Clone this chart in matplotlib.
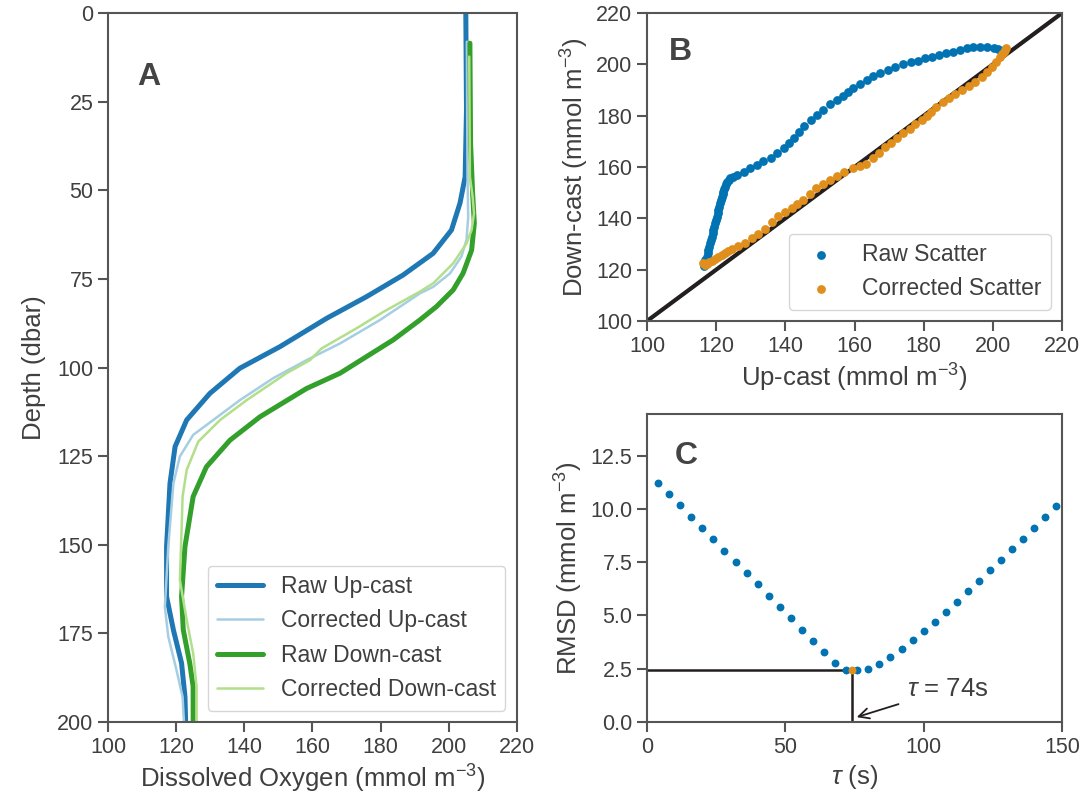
import matplotlib
matplotlib.use("Agg")
import matplotlib.pyplot as plt
import seaborn as sns

# ---- panel A: oxygen profiles (depth in dbar, oxygen in mmol m-3)
raw_up_depth = [0, 27.4, 46.2, 53.6, 61.2, 67.8, 73.9, 80.0, 86.1, 94.1, 100.2,
                107.3, 114.8, 122.3, 132.7, 150.5, 164.6, 174.0, 183.4, 192.9, 200]
raw_up_oxy = [205.0, 205.2, 204.8, 203.3, 200.8, 195.4, 186.6, 175.9, 164.2, 150.5, 138.7,
              129.9, 123.1, 119.7, 118.2, 117.2, 117.2, 119.2, 121.6, 122.6, 122.8]

cor_up_depth = [8.1, 46.2, 57.5, 64.0, 68.7, 73.4, 77.2, 79.1, 86.6, 93.2, 97.9, 103.0,
                109.2, 114.8, 119.0, 125.1, 132.7, 150.5, 167.5, 175.9, 185.3, 192.9, 200]
cor_up_oxy = [205.3, 205.5, 205.7, 205.2, 203.7, 200.4, 195.5, 191.5, 179.8, 168.1, 158.3, 148.5,
              138.7, 130.9, 125.0, 121.1, 119.2, 117.7, 116.7, 117.7, 120.1, 121.9, 122.3]

raw_down_depth = [8.5, 36.8, 50.9, 59.3, 66.9, 73.4, 78.1, 82.8, 86.6, 92.2, 101.6, 105.9,
                  113.9, 120.5, 128.0, 136.4, 150.5, 164.6, 174.0, 183.4, 190.0, 200]
raw_down_oxy = [206.2, 206.4, 207.0, 207.5, 206.7, 204.2, 201.3, 196.4, 191.5, 183.7, 168.1, 158.3,
                144.6, 135.8, 128.9, 125.0, 122.6, 121.6, 122.1, 124.0, 125.0, 125.0]

cor_down_depth = [12.3, 46.2, 51.8, 56.5, 61.2, 65.0, 70.6, 76.2, 78.6, 84.3, 88.9, 94.6, 97.9,
                  101.6, 109.2, 114.8, 120.9, 128.9, 136.4, 145.8, 159.9, 171.2, 180.6, 190.0, 200]
cor_down_oxy = [206.0, 206.2, 207.0, 207.4, 206.7, 205.2, 201.3, 195.5, 191.5, 180.8, 173.0, 162.7, 159.3,
                152.4, 140.7, 132.9, 126.5, 123.1, 121.9, 121.6, 121.1, 123.1, 125.0, 126.0, 126.0]

# ---- panel B: down-cast vs up-cast
raw_up = [116.8, 116.5, 116.9, 117.2, 117.5, 117.7, 118.0, 118.2, 118.5, 118.7, 119.0, 119.2,
          119.5, 119.7, 120.0, 120.2, 120.4, 120.6, 120.9, 121.1, 121.4, 121.6, 121.9, 122.1,
          122.4, 122.6, 122.9, 123.2, 123.6, 124.0, 124.8, 125.9, 127.9, 129.8, 131.7, 133.6,
          135.8, 137.7, 139.6, 141.1, 142.5, 144.0, 145.5, 147.3, 149.2, 151.0, 152.9, 154.9,
          156.8, 158.2, 159.7, 161.6, 163.5, 165.4, 167.4, 169.8, 171.7, 174.1, 176.3, 178.5,
          180.4, 182.3, 184.5, 186.5, 188.6, 190.5, 192.4, 194.4, 196.3, 198.2, 200.2, 201.6, 203.1]
raw_down = [122.5, 121.3, 123.6, 125.0, 126.4, 127.7, 129.0, 130.2, 131.5, 132.8, 134.1, 135.4,
            136.7, 138.0, 139.3, 140.6, 141.9, 143.2, 144.5, 145.8, 147.1, 148.4, 149.4, 150.4,
            151.4, 152.3, 153.3, 154.3, 155.0, 155.6, 156.3, 156.9, 158.2, 159.5, 160.8, 162.3,
            163.6, 165.6, 167.5, 169.2, 171.5, 173.8, 176.0, 178.3, 180.3, 182.2, 184.4, 186.1,
            187.7, 189.3, 190.6, 192.5, 194.1, 195.5, 196.7, 198.0, 199.0, 200.0, 200.8, 201.4,
            202.3, 203.0, 203.7, 204.3, 204.9, 205.6, 206.2, 206.6, 206.9, 206.9, 206.5, 205.8, 205.6]

cor_up = [116.8, 116.3, 117.3, 117.8, 118.7, 119.6, 120.6, 121.6, 122.6, 123.5, 124.5, 126.4, 128.3,
          130.3, 132.2, 134.1, 136.1, 138.0, 139.9, 141.8, 143.3, 145.2, 147.1, 148.9, 150.8,
          152.9, 154.9, 157.0, 159.7, 161.6, 163.3, 165.3, 167.2, 168.8, 170.6, 172.4, 174.1,
          175.9, 177.6, 179.5, 180.9, 182.2, 183.6, 185.5, 187.2, 189.1, 191.0, 193.0, 194.9,
          196.8, 198.2, 199.7, 200.9, 202.1, 202.6, 203.1, 203.5, 203.8]
cor_down = [121.9, 122.6, 122.4, 122.8, 123.2, 124.0, 124.8, 125.6, 126.4, 127.2, 127.9, 129.2, 130.5,
            132.2, 133.9, 135.7, 138.7, 140.9, 142.6, 143.9, 145.6, 147.1, 149.5, 151.7, 153.4,
            154.9, 156.6, 157.9, 159.5, 160.4, 161.2, 163.4, 165.6, 167.7, 169.5, 171.4, 173.1,
            174.8, 176.6, 178.3, 179.8, 181.5, 183.2, 185.4, 186.9, 188.6, 190.2, 191.6, 193.2,
            195.1, 197.1, 199.0, 201.0, 202.9, 203.9, 204.9, 205.6, 206.2]

# ---- panel C: RMSD against lag
tau = [4, 8, 12, 16, 20, 24, 28, 32, 36, 40, 44, 48, 52, 56, 60, 64, 68, 72, 76, 80,
       84, 88, 92, 96, 100, 104, 108, 112, 116, 120, 124, 128, 132, 136, 140, 144, 148]
rmsd = [11.21, 10.68, 10.17, 9.64, 9.10, 8.57, 8.04, 7.51, 7.00, 6.46, 5.93, 5.40, 4.87, 4.34,
        3.82, 3.29, 2.76, 2.46, 2.46, 2.50, 2.72, 3.07, 3.43, 3.84, 4.26, 4.70, 5.16, 5.64,
        6.13, 6.63, 7.12, 7.60, 8.10, 8.60, 9.10, 9.61, 10.12]
best_tau = 74
best_rmsd = 2.45

sns.set_style("ticks")
txt = "#3f3f3f"
plt.rcParams["font.family"] = ["Liberation Sans", "DejaVu Sans"]
plt.rcParams["mathtext.fontset"] = "custom"
plt.rcParams["mathtext.rm"] = "Liberation Sans"
plt.rcParams["mathtext.it"] = "Liberation Sans:italic"
plt.rcParams["text.color"] = txt
plt.rcParams["axes.labelcolor"] = txt
plt.rcParams["xtick.color"] = "#555555"
plt.rcParams["ytick.color"] = "#555555"
plt.rcParams["xtick.labelcolor"] = txt
plt.rcParams["ytick.labelcolor"] = txt
plt.rcParams["axes.edgecolor"] = "#555555"
plt.rcParams["axes.linewidth"] = 1.5
plt.rcParams["xtick.major.width"] = 1.5
plt.rcParams["ytick.major.width"] = 1.5
plt.rcParams["xtick.major.size"] = 7
plt.rcParams["ytick.major.size"] = 7
plt.rcParams["xtick.labelsize"] = 15.5
plt.rcParams["ytick.labelsize"] = 15.5
plt.rcParams["axes.labelsize"] = 18.5
plt.rcParams["legend.fontsize"] = 16.5

fig = plt.figure(figsize=(10.86, 8.1), dpi=100)
axA = fig.add_axes([0.0994, 0.1086, 0.3766, 0.8753])
axB = fig.add_axes([0.5958, 0.6037, 0.3821, 0.3802])
axC = fig.add_axes([0.5958, 0.1086, 0.3821, 0.3802])

# A
axA.plot(raw_up_oxy, raw_up_depth, color="#1f78b4", lw=3.6, label="Raw Up-cast")
axA.plot(cor_up_oxy, cor_up_depth, color="#a6cee3", lw=1.8, label="Corrected Up-cast")
axA.plot(raw_down_oxy, raw_down_depth, color="#33a02c", lw=3.6, label="Raw Down-cast")
axA.plot(cor_down_oxy, cor_down_depth, color="#b2df8a", lw=1.8, label="Corrected Down-cast")
axA.set_xlim(100, 220)
axA.set_ylim(200, 0)
axA.set_xticks(range(100, 221, 20))
axA.set_yticks(range(0, 201, 25))
axA.set_xlabel("Dissolved Oxygen (mmol m$^{-3}$)")
axA.set_ylabel("Depth (dbar)", labelpad=8)
axA.legend(loc="lower right")
axA.text(0.10, 0.91, "A", transform=axA.transAxes, fontsize=23, fontweight="bold",
         ha="center", va="center", color="#444444")

# B
axB.plot([100, 220], [100, 220], color="#231f20", lw=3, zorder=1)
axB.scatter(raw_up, raw_down, s=40, color="#0173b2", linewidths=0, label="Raw Scatter", zorder=2)
axB.scatter(cor_up, cor_down, s=40, color="#e08f1c", linewidths=0, label="Corrected Scatter", zorder=3)
axB.set_xlim(100, 220)
axB.set_ylim(100, 220)
axB.set_xticks(range(100, 221, 20))
axB.set_yticks(range(100, 221, 20))
axB.set_xlabel("Up-cast (mmol m$^{-3}$)")
axB.set_ylabel("Down-cast (mmol m$^{-3}$)")
axB.legend(loc="lower right")
axB.text(0.08, 0.875, "B", transform=axB.transAxes, fontsize=23, fontweight="bold",
         ha="center", va="center", color="#444444")

# C
axC.plot([0, best_tau], [best_rmsd, best_rmsd], color="#231f20", lw=1.8, zorder=1)
axC.plot([best_tau, best_tau], [0, best_rmsd], color="#231f20", lw=1.8, zorder=1)
axC.scatter(tau, rmsd, s=32, color="#0173b2", linewidths=0, zorder=2)
axC.scatter([best_tau], [best_rmsd], s=32, color="#e08f1c", linewidths=0, zorder=3)
axC.annotate(r"$\tau$ = 74s", xy=(75.8, 0.23), xytext=(94, 1.56), fontsize=18.5,
             va="center", ha="left", color=txt,
             arrowprops=dict(arrowstyle="->", color="#231f20", lw=1.3, shrinkA=4, shrinkB=0))
axC.set_xlim(0, 150)
axC.set_ylim(0, 14.45)
axC.set_xticks([0, 50, 100, 150])
axC.set_yticks([0, 2.5, 5, 7.5, 10, 12.5])
axC.set_xlabel(r"$\tau$ (s)")
axC.set_ylabel("RMSD (mmol m$^{-3}$)")
axC.text(0.094, 0.864, "C", transform=axC.transAxes, fontsize=23, fontweight="bold",
         ha="center", va="center", color="#444444")

fig.savefig("out.png", dpi=100)
